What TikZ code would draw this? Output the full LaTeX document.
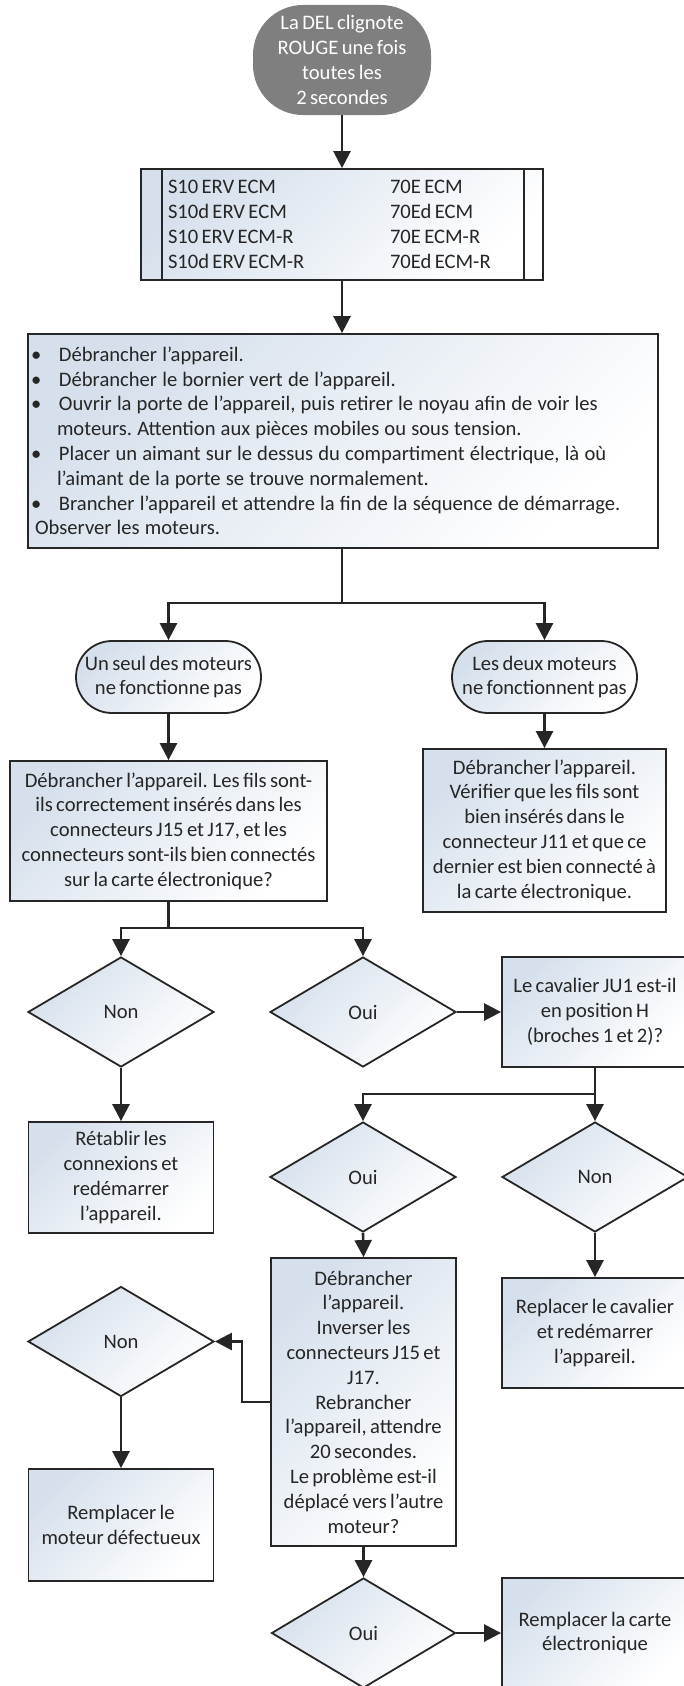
\documentclass[tikz,border=0pt]{standalone}
\usepackage{fontspec}
\setmainfont{Carlito}[WordSpace=0.72]
\usetikzlibrary{shapes.geometric,arrows.meta,positioning}
\definecolor{ink}{HTML}{262626}
\definecolor{pale}{HTML}{D6E0EC}
\definecolor{startgray}{HTML}{7F7F7F}
\tikzset{
  txt/.style={font=\fontsize{20.6}{24.8}\selectfont,text=ink},
  softfill/.style={draw=ink,line width=1.8pt,top color=pale,bottom color=white,shading angle=45},
  procbox/.style={softfill,txt,rectangle,align=center,inner sep=0pt},
  termbox/.style={softfill,txt,rectangle,rounded corners=36pt,align=center,inner sep=0pt,
    minimum width=185pt,minimum height=72pt},
  decis/.style={softfill,txt,diamond,inner sep=0pt,minimum width=186pt,minimum height=110pt},
  link/.style={ink,line width=2.6pt},
  flow/.style={link,-{Triangle[length=17pt,width=17pt]}},
}
% word spaces for left-aligned node text
\newcommand{\fontspaces}[1][0pt]{\spaceskip=#1\xspaceskip=#1\relax\ignorespaces}

\begin{document}
\begin{tikzpicture}[x=1pt,y=-1pt]
  \useasboundingbox (0,0) rectangle (684,1686);
  % ---------- start and model list ----------
  \node[txt,text=white,fill=startgray,rounded corners=50pt,align=center,inner sep=0pt,
    minimum width=178pt,minimum height=110pt] (start) at (342,60)
    {La DEL clignote\\ROUGE une fois\\toutes les\\2 secondes};
  \node[procbox,minimum width=402pt,minimum height=111pt,text width=348pt,align=left] (models) at (342,224.5)
    {\fontspaces
     \makebox[222pt][l]{S10 ERV ECM}70E ECM\\
     \makebox[222pt][l]{S10d ERV ECM}70Ed ECM\\
     \makebox[222pt][l]{S10 ERV ECM-R}70E ECM-R\\
     \makebox[222pt][l]{S10d ERV ECM-R}70Ed ECM-R};
  \draw[ink,line width=1.8pt] ([xshift=22pt]models.north west) -- ([xshift=22pt]models.south west);
  \draw[ink,line width=1.8pt] ([xshift=-20pt]models.north east) -- ([xshift=-20pt]models.south east);
  \node[procbox,minimum width=630pt,minimum height=214pt,text width=624pt,align=left] (steps) at (343,441)
    {\fontspaces[0.25em]
     \makebox[28pt][l]{\textbullet}Débrancher l’appareil.\\
     \makebox[28pt][l]{\textbullet}Débrancher le bornier vert de l’appareil.\\
     \makebox[28pt][l]{\textbullet}Ouvrir la porte de l’appareil, puis retirer le noyau afin de voir les\\
     \hspace*{26pt}moteurs. Attention aux pièces mobiles ou sous tension.\\
     \makebox[28pt][l]{\textbullet}Placer un aimant sur le dessus du compartiment électrique, là où\\
     \hspace*{26pt}l’aimant de la porte se trouve normalement.\\
     \makebox[28pt][l]{\textbullet}Brancher l’appareil et attendre la fin de la séquence de démarrage.\\
     \hspace*{4pt}Observer les moteurs.};
  % ---------- one motor / both motors ----------
  \node[termbox] (oneoff) at (168.5,677) {Un seul des moteurs\\ne fonctionne pas};
  \node[termbox] (bothoff) at (544.5,677) {Les deux moteurs\\ne fonctionnent pas};
  \node[procbox,minimum width=317pt,minimum height=140pt] (check) at (168.5,831)
    {Débrancher l’appareil. Les fils sont-\\ils correctement insérés dans les\\connecteurs J15 et J17, et les\\connecteurs sont-ils bien connectés\\sur la carte électronique?};
  \node[procbox,minimum width=243pt,minimum height=163pt] (verify) at (544.5,830.5)
    {Débrancher l’appareil.\\Vérifier que les fils sont\\bien insérés dans le\\connecteur J11 et que ce\\dernier est bien connecté à\\la carte électronique.};
  % ---------- wiring checks ----------
  \node[decis] (nonA) at (121,1012) {Non};
  \node[decis] (ouiA) at (363,1012) {Oui};
  \node[procbox,minimum width=186pt,minimum height=110pt] (jumper) at (595,1012)
    {Le cavalier JU1 est-il\\en position H\\(broches 1 et 2)?};
  \node[procbox,minimum width=185pt,minimum height=111pt] (reconnect) at (121,1177.5)
    {Rétablir les\\connexions et\\redémarrer\\l’appareil.};
  \node[decis] (ouiB) at (363,1177) {Oui};
  \node[decis] (nonB) at (595,1177) {Non};
  \node[procbox,minimum width=185pt,minimum height=288pt] (swap) at (363.5,1402)
    {Débrancher\\l’appareil.\\Inverser les\\connecteurs J15 et\\J17.\\Rebrancher\\l’appareil, attendre\\20 secondes.\\Le problème est-il\\déplacé vers l’autre\\moteur?};
  \node[procbox,minimum width=186pt,minimum height=110pt] (replug) at (595,1333)
    {Replacer le cavalier\\et redémarrer\\l’appareil.};
  % ---------- after swapping connectors ----------
  \node[decis] (nonC) at (121,1341.5) {Non};
  \node[procbox,minimum width=185pt,minimum height=112pt] (motor) at (121,1525)
    {Remplacer le\\moteur défectueux};
  \node[decis,minimum width=184pt] (ouiC) at (363.5,1633) {Oui};
  \node[procbox,minimum width=186pt,minimum height=110pt] (board) at (595,1633)
    {Remplacer la carte\\électronique};
  % ---------- connectors ----------
  \coordinate (fork1) at (342,603);
  \coordinate (fork2) at (168.5,928);
  \coordinate (fork3) at (595,1094);
  \draw[flow] (start.south) -- (models.north);
  \draw[flow] (models.south) -- (steps.north -| models.south);
  \draw[link] (steps.south -| fork1) -- (fork1);
  \draw[flow] (fork1) -| (oneoff.north);
  \draw[flow] (fork1) -| (bothoff.north);
  \draw[flow] (oneoff.south) -- (check.north);
  \draw[flow] (bothoff.south) -- (verify.north);
  \draw[link] (check.south) -- (fork2);
  \draw[flow] (fork2) -| (nonA.north);
  \draw[flow] (fork2) -| (ouiA.north);
  \draw[flow] (ouiA.east) -- (jumper.west);
  \draw[flow] (nonA.south) -- (reconnect.north);
  \draw[link] (jumper.south) -- (fork3);
  \draw[flow] (fork3) -| (ouiB.north);
  \draw[flow] (fork3) -- (nonB.north);
  \draw[flow] (ouiB.south) -- (swap.north);
  \draw[flow] (nonB.south) -- (replug.north);
  \draw[flow] (swap.west) -- ++(-28,0) |- (nonC.east);
  \draw[flow] (nonC.south) -- (motor.north);
  \draw[flow] (swap.south) -- (ouiC.north);
  \draw[flow] (ouiC.east) -- (board.west);
\end{tikzpicture}
\end{document}
